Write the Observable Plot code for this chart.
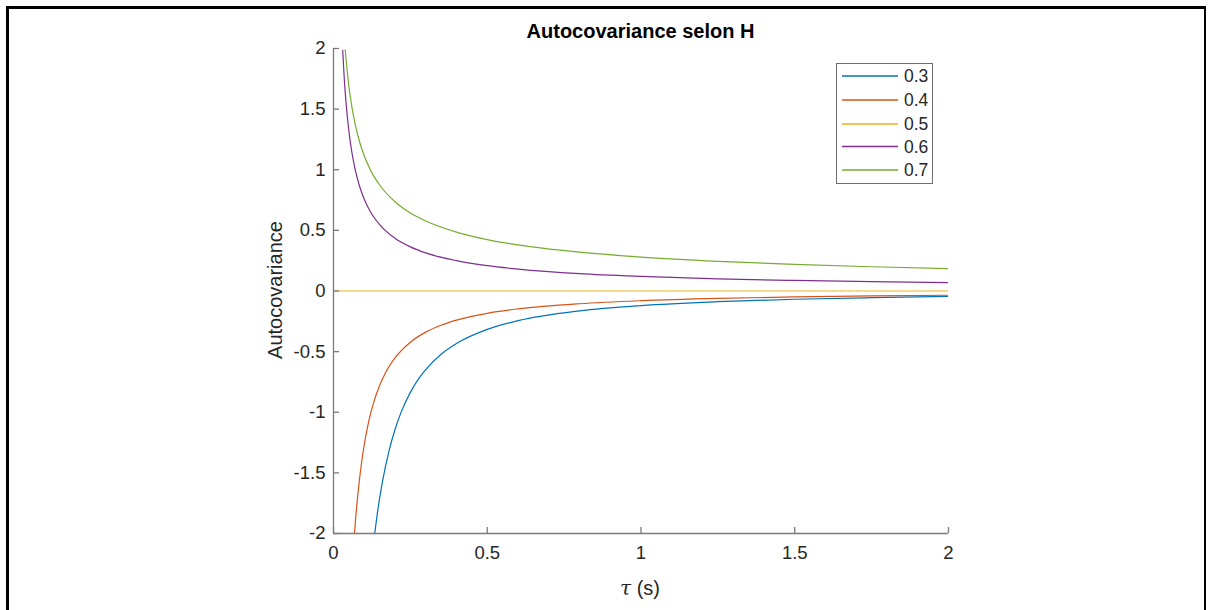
<!DOCTYPE html>
<html>
<head>
<meta charset="utf-8">
<script src="https://cdn.jsdelivr.net/npm/d3@7"></script>
<script src="https://cdn.jsdelivr.net/npm/@observablehq/plot@0.6"></script>
<style>
  html, body { margin: 0; padding: 0; background: #fff; }
  #wrap { position: relative; width: 1211px; height: 610px; overflow: hidden; font-family: "Liberation Sans", Arial, Helvetica, sans-serif; }
  #border { position: absolute; left: 6px; top: 6px; width: 1200px; height: 700px; border-left: 3px solid #000; border-top: 3px solid #000; border-right: 2px solid #000; box-sizing: border-box; }
  #title { position: absolute; left: 0; width: 1281px; top: 20px; text-align: center; font-weight: bold; font-size: 20px; color: #000; }
  #ylabel { position: absolute; left: 275px; top: 290px; transform: translate(-50%, -50%) rotate(-90deg); font-size: 20px; color: #262626; white-space: nowrap; }
  #xlabel { position: absolute; left: 640px; top: 576px; transform: translateX(-50%); font-size: 20px; color: #262626; white-space: nowrap; }
  #xlabel i { font-family: "DejaVu Serif", "Liberation Serif", serif; }
  #legend { position: absolute; left: 836px; top: 63px; width: 97px; height: 121px; background: #fff; }
  #chart svg { position: absolute; left: 0; top: 0; }
</style>
</head>
<body>
<div id="wrap">
  <div id="chart"></div>
  <div id="border"></div>
  <div id="title">Autocovariance selon H</div>
  <div id="ylabel">Autocovariance</div>
  <div id="xlabel"><i>τ</i> (s)</div>
  <div id="legend"></div>
</div>
<script>
// Series labels (Hurst exponent H)
const H = ["0.3", "0.4", "0.5", "0.6", "0.7"];
const colors = ["#0072BD", "#D95319", "#EDB120", "#7E2F8E", "#77AC30"];

// H = 0.3 (blue)
const tau03 = [0.134, 0.14, 0.15, 0.16, 0.18, 0.2, 0.22, 0.25, 0.28, 0.3, 0.35, 0.4, 0.5, 0.6, 0.8, 1.0, 1.25, 1.5, 1.75, 2.0];
const cov03 = [-2.001, -1.883, -1.709, -1.561, -1.324, -1.142, -0.999, -0.836, -0.713, -0.648, -0.522, -0.433, -0.317, -0.245, -0.164, -0.120, -0.088, -0.068, -0.055, -0.045];

// H = 0.4 (orange)
const tau04 = [0.068, 0.07, 0.08, 0.09, 0.1, 0.11, 0.12, 0.13, 0.15, 0.17, 0.2, 0.25, 0.3, 0.35, 0.4, 0.5, 0.6, 0.8, 1.0, 1.25, 1.5, 1.75, 2.0];
const cov04 = [-2.016, -1.94, -1.658, -1.44, -1.268, -1.131, -1.018, -0.925, -0.780, -0.670, -0.552, -0.422, -0.339, -0.282, -0.240, -0.184, -0.148, -0.105, -0.080, -0.061, -0.049, -0.041, -0.035];

// H = 0.5 (yellow)
const tau05 = [0.0, 0.5, 1.0, 1.5, 2.0];
const cov05 = [0, 0, 0, 0, 0];

// H = 0.6 (purple)
const tau06 = [0.03, 0.035, 0.04, 0.05, 0.06, 0.07, 0.085, 0.1, 0.12, 0.15, 0.2, 0.25, 0.3, 0.4, 0.5, 0.6, 0.8, 1.0, 1.25, 1.5, 1.75, 2.0];
const cov06 = [1.984, 1.753, 1.576, 1.319, 1.140, 1.007, 0.862, 0.757, 0.654, 0.548, 0.435, 0.364, 0.314, 0.250, 0.209, 0.181, 0.143, 0.120, 0.100, 0.087, 0.077, 0.069];

// H = 0.7 (green)
const tau07 = [0.038, 0.05, 0.06, 0.07, 0.085, 0.1, 0.12, 0.15, 0.2, 0.25, 0.3, 0.4, 0.5, 0.6, 0.8, 1.0, 1.25, 1.5, 1.75, 2.0];
const cov07 = [1.99, 1.689, 1.514, 1.381, 1.229, 1.115, 0.999, 0.874, 0.736, 0.643, 0.577, 0.485, 0.424, 0.380, 0.320, 0.280, 0.245, 0.220, 0.200, 0.185];

const xTicks = [0, 0.5, 1, 1.5, 2];
const yTicks = [-2, -1.5, -1, -0.5, 0, 0.5, 1, 1.5, 2];

const series = [[tau03, cov03], [tau04, cov04], [tau05, cov05], [tau06, cov06], [tau07, cov07]];
const rows = [];
series.forEach(([t, c], i) => t.forEach((tv, j) => rows.push({H: H[i], tau: tv, cov: c[j]})));

const axisColor = "#7a7a7a";
const textColor = "#262626";

const chart = Plot.plot({
  width: 1211,
  height: 610,
  marginLeft: 333,
  marginRight: 263,
  marginTop: 48,
  marginBottom: 77,
  style: {fontFamily: "'Liberation Sans', Arial, sans-serif", fontSize: "18px", color: textColor, background: "transparent"},
  x: {domain: [0, 2]},
  y: {domain: [-2, 2]},
  color: {domain: H, range: colors},
  marks: [
    Plot.line(rows, {x: "tau", y: "cov", z: "H", stroke: "H", strokeWidth: 1.2, curve: "monotone-x", clip: true}),
    Plot.ruleX([0], {stroke: axisColor, strokeWidth: 1.3}),
    Plot.ruleY([-2], {stroke: axisColor, strokeWidth: 1.3}),
    Plot.axisX({ticks: xTicks, tickSize: -6, tickPadding: 18, stroke: axisColor, strokeWidth: 1.3, fill: textColor, label: null, tickFormat: d => String(d), fontSize: 18.5}),
    Plot.axisY({ticks: yTicks, tickSize: -6, tickPadding: 14, stroke: axisColor, strokeWidth: 1.3, fill: textColor, label: null, tickFormat: d => String(d), fontSize: 18.5})
  ]
});
document.getElementById("chart").appendChild(chart);

// Legend as a small SVG
const lg = d3.select("#legend").append("svg").attr("width", 97).attr("height", 121)
  .style("font-family", "'Liberation Sans', Arial, sans-serif");
lg.append("rect").attr("x", 0.5).attr("y", 0.5).attr("width", 96).attr("height", 120)
  .attr("fill", "#fff").attr("stroke", "#6e6e6e").attr("stroke-width", 1);
const legendY = [13, 37, 61, 83.5, 107];
H.forEach((h, i) => {
  lg.append("line").attr("x1", 6).attr("x2", 62).attr("y1", legendY[i]).attr("y2", legendY[i])
    .attr("stroke", colors[i]).attr("stroke-width", 1.3);
  lg.append("text").attr("x", 68).attr("y", legendY[i]).attr("dy", "0.35em")
    .attr("font-size", 17.5).attr("fill", textColor).text(h);
});
</script>
</body>
</html>
